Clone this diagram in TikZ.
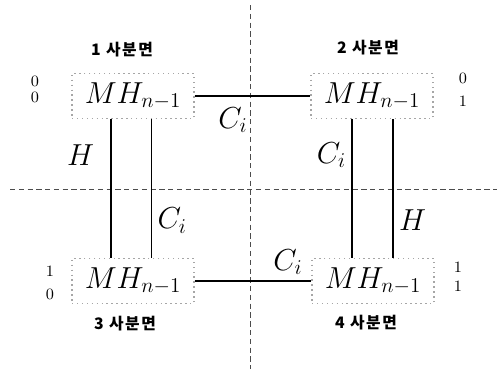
\documentclass[tikz,border=0pt]{standalone}
\usepackage{fontspec}
\newfontfamily\krfont[LetterSpace=10]{Noto Sans CJK KR}
\usepackage{tikz}
\usetikzlibrary{calc}

\begin{document}
\begin{tikzpicture}[x=0.02cm, y=-0.02cm,
  quad/.style={draw=gray!70, dotted, thick, minimum width=2.44cm, minimum height=0.9cm, inner sep=0pt, font=\LARGE},
  link/.style={line width=1pt},
  axis/.style={densely dashed, gray!60!black, line width=0.5pt},
  lab/.style={font=\LARGE, inner sep=3pt},
  qname/.style={font=\small\krfont\bfseries},
  bits/.style={font=\small, align=center, inner sep=0pt},
]
\useasboundingbox (0,0) rectangle (497,369);
% quadrant axes
\draw[axis] (250,5) -- (250,369);
\draw[axis] (10,189) -- (497,189);
% the four sub-cubes
\node[quad] (box1) at (133,96) {$MH_{n-1}$};
\node[quad] (box2) at (372,96) {$MH_{n-1}$};
\node[quad] (box3) at (133,281) {$MH_{n-1}$};
\node[quad] (box4) at (373,281) {$MH_{n-1}$};
\node[qname] (q1) at (122,50) {1 사분면};
\node[qname] (q2) at (368,48) {2 사분면};
\node[qname] (q3) at (125,324) {3 사분면};
\node[qname] (q4) at (366,323) {4 사분면};
\node[bits] (b1) at (35,89) {0\\[-2pt]0};
\node[bits] (b2) at (463,90) {0\\[2pt]1};
\node[bits] (b3) at (50,283) {1\\[2pt]0};
\node[bits] (b4) at (458,277) {1\\[0pt]1};
% links between quadrants
\coordinate (h1) at ($(box1.south west)!0.32!(box1.south east)$);
\coordinate (c1) at ($(box1.south west)!0.65!(box1.south east)$);
\coordinate (c2) at ($(box2.south west)!0.34!(box2.south east)$);
\coordinate (h2) at ($(box2.south west)!0.67!(box2.south east)$);
\draw[link] (box1.east) -- node[lab, below, pos=0.33, yshift=-3pt]{$C_i$} (box2.west);
\draw[link] (box3.east) -- node[lab, above, pos=0.8]{$C_i$} (box4.west);
\draw[link] (h1) -- node[lab, left, pos=0.26, xshift=-6pt]{$H$} (h1 |- box3.north);
\draw[link] (c1) -- node[lab, right, pos=0.73]{$C_i$} (c1 |- box3.north);
\draw[link] (c2) -- node[lab, left, pos=0.26]{$C_i$} (c2 |- box4.north);
\draw[link] (h2) -- node[lab, right, pos=0.73]{$H$} (h2 |- box4.north);
\end{tikzpicture}
\end{document}
